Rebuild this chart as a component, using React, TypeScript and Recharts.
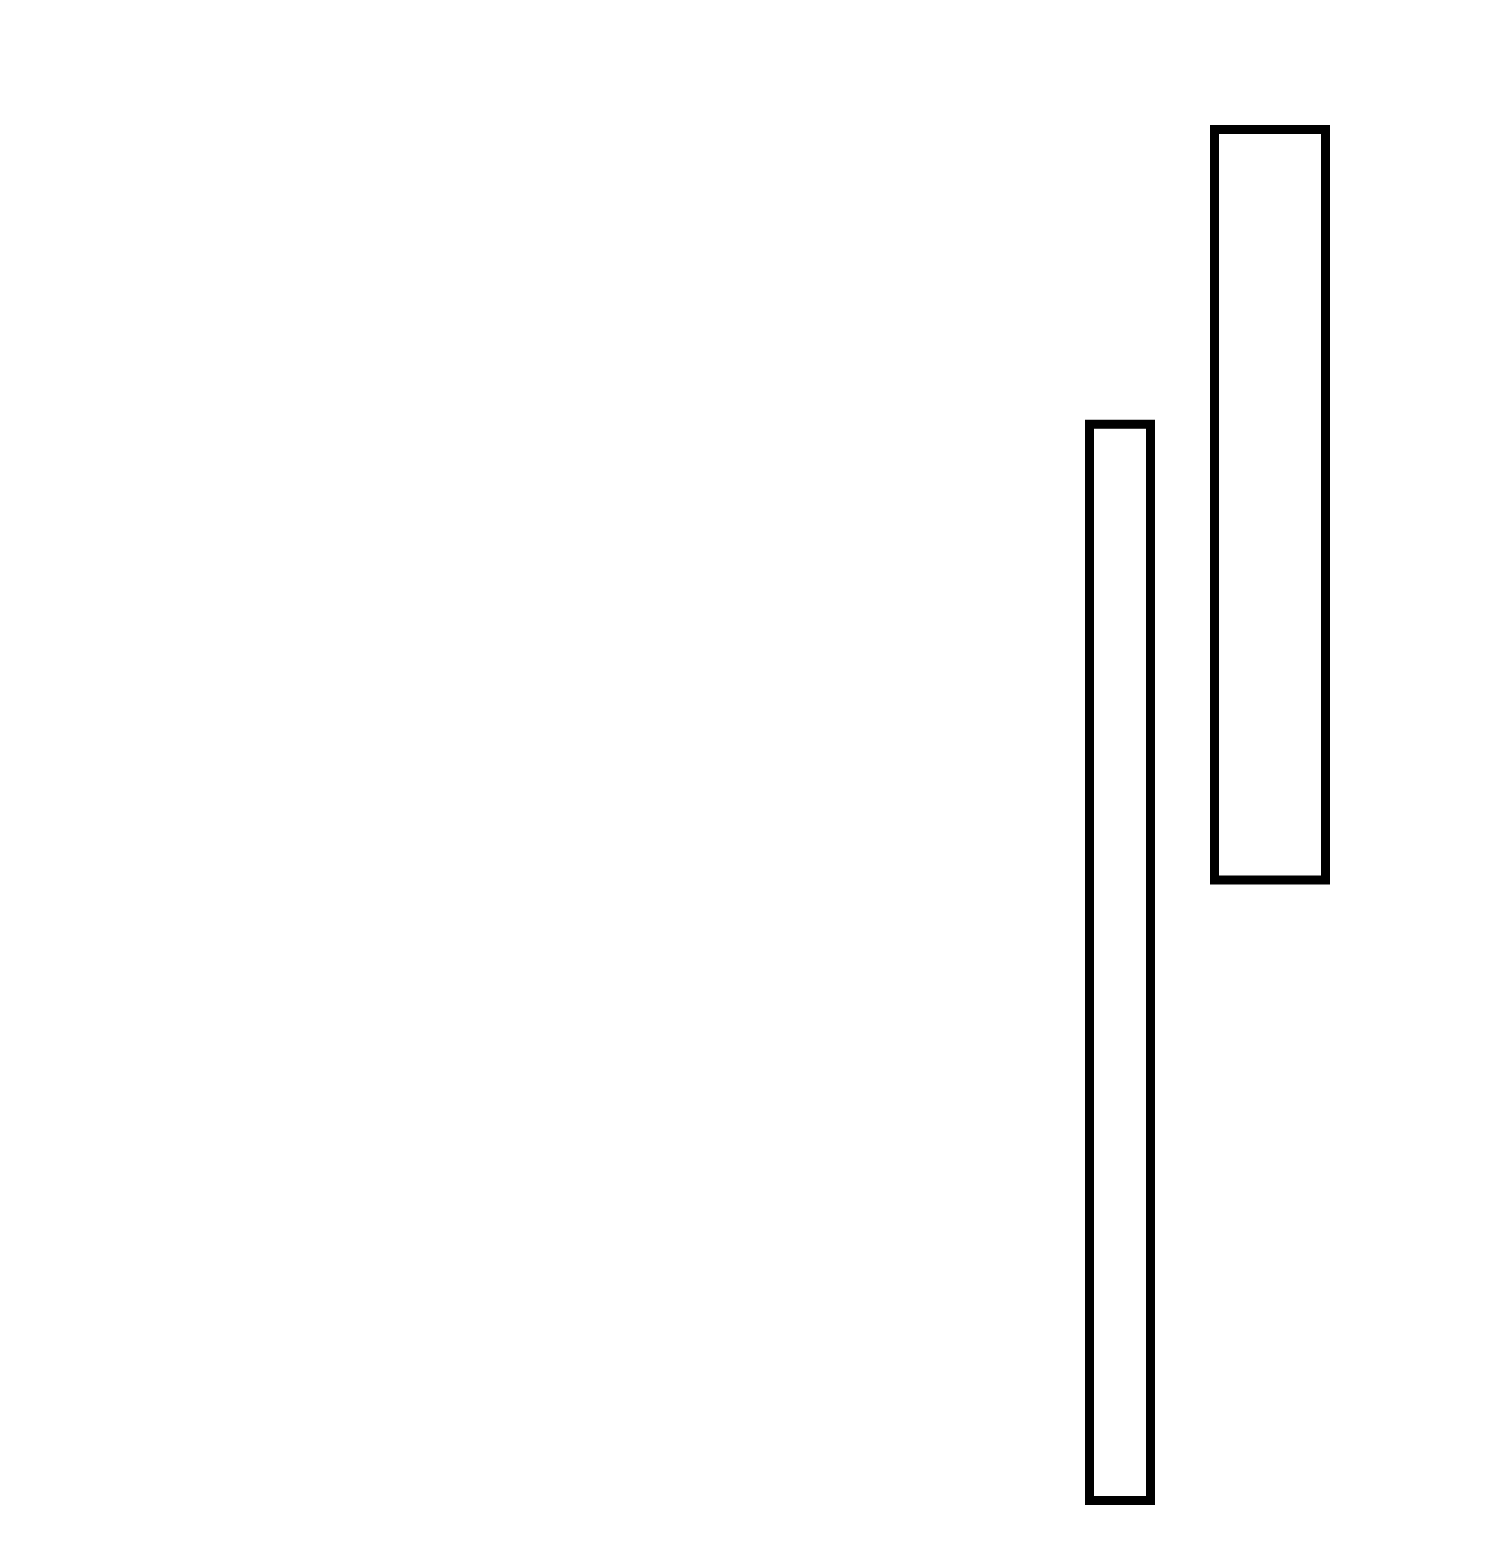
import { BarChart, Bar, XAxis, YAxis } from 'recharts';

const categories = ['A'];
const narrowLow = [0];
const narrowHigh = [78.5];
const wideLow = [45.25];
const wideHigh = [100];

const data = categories.map((name, i) => ({
  name,
  narrow: [narrowLow[i], narrowHigh[i]],
  wide: [wideLow[i], wideHigh[i]],
}));

export default function App() {
  return (
    <BarChart
      width={1484}
      height={1549}
      data={data}
      margin={{ top: 121.5, right: 164.5, bottom: 56.5, left: 1079.5 }}
      barGap={64}
    >
      <XAxis dataKey="name" hide />
      <YAxis domain={[0, 100]} hide />
      <Bar
        dataKey="narrow"
        barSize={61}
        fill="#ffffff"
        stroke="#000000"
        strokeWidth={9}
        isAnimationActive={false}
      />
      <Bar
        dataKey="wide"
        barSize={111}
        fill="#ffffff"
        stroke="#000000"
        strokeWidth={9}
        isAnimationActive={false}
      />
    </BarChart>
  );
}
